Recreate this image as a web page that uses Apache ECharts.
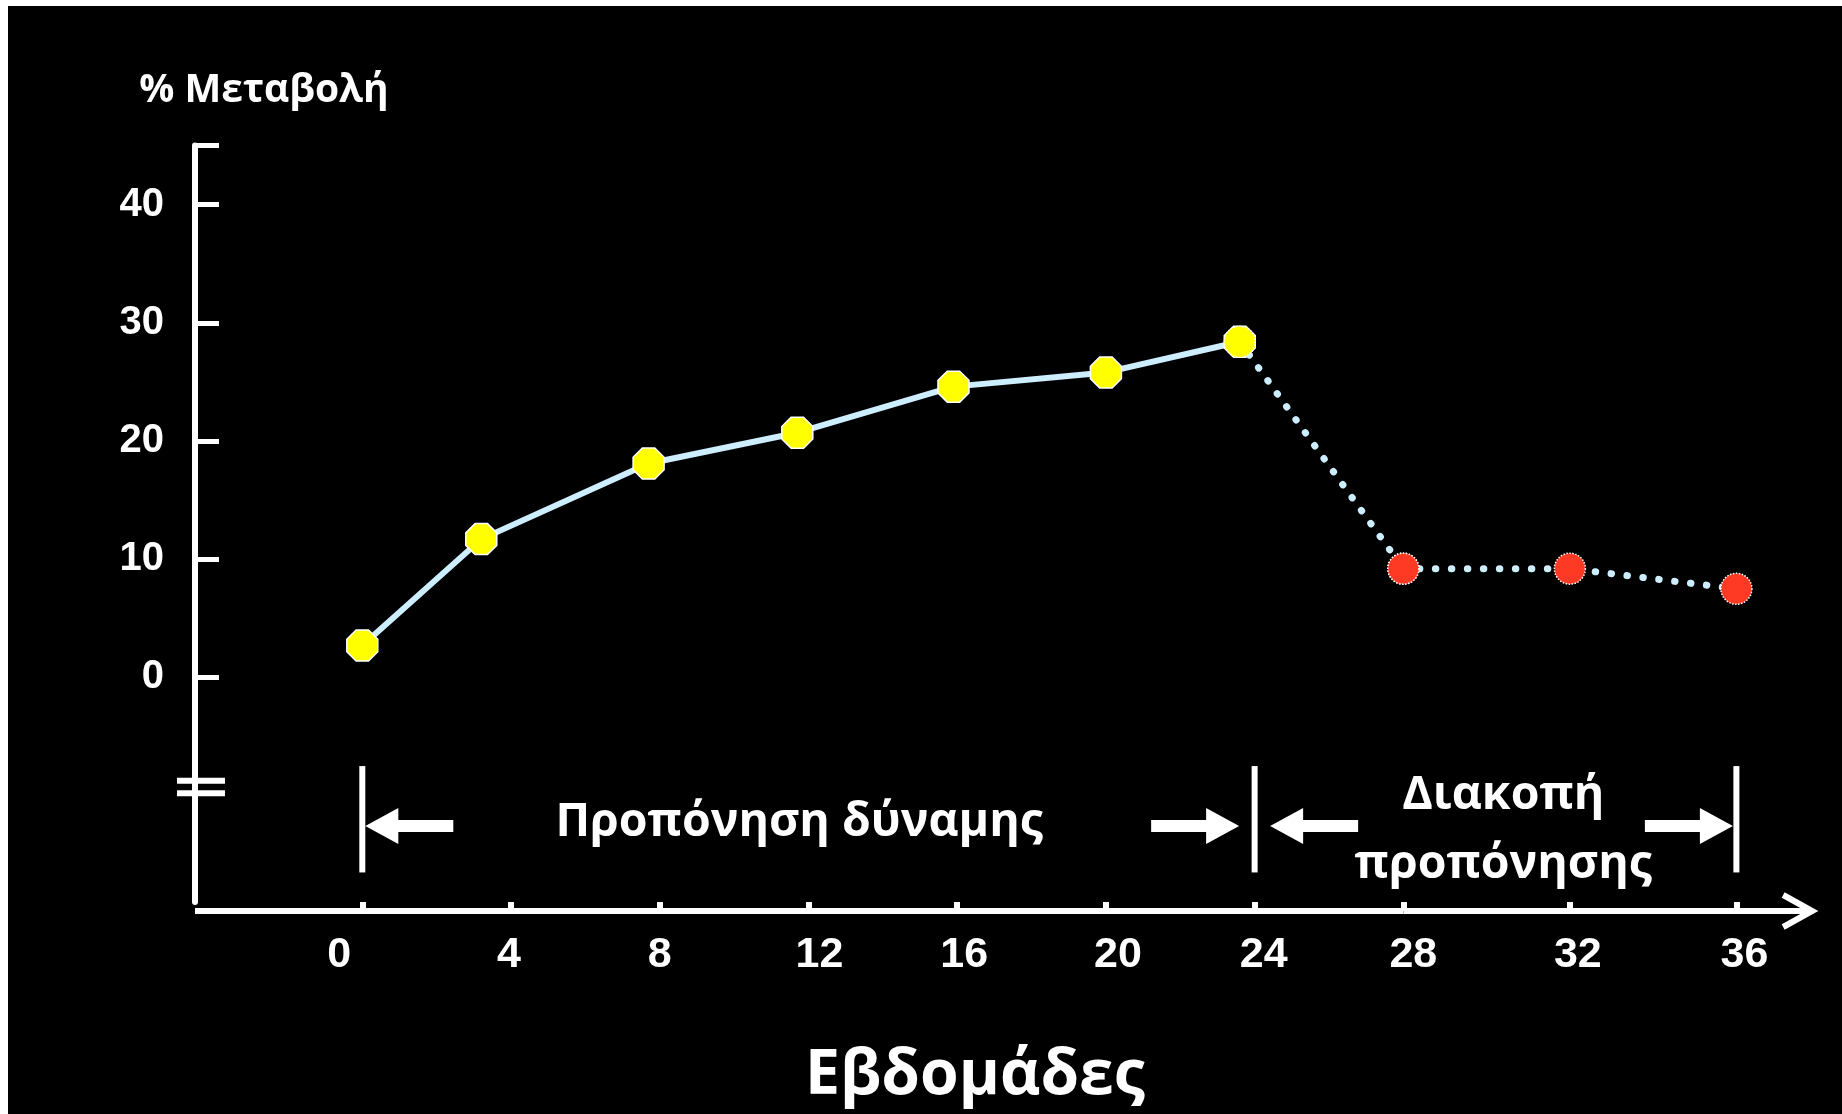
<!DOCTYPE html>
<html lang="el">
<head>
<meta charset="utf-8">
<title>% Μεταβολή – Εβδομάδες</title>
<script src="https://cdn.jsdelivr.net/npm/echarts@6/dist/echarts.min.js"></script>
<style>
  html, body { margin: 0; padding: 0; background: #000; }
  #chart { width: 1842px; height: 1114px; }
</style>
</head>
<body>
<div id="chart"></div>
<script>
// % change over the weeks of strength training (solid) and after it stops (dotted)
const trainingWeeks  = [0, 3.2, 7.7, 11.7, 15.9, 20, 23.6];
const trainingChange = [2.7, 11.7, 18.1, 20.7, 24.6, 25.8, 28.4];
const detrainWeeks   = [23.6, 28, 32, 36];
const detrainChange  = [28.4, 9.2, 9.2, 7.5];

// axis ticks
const weekTicks   = [0, 4, 8, 12, 16, 20, 24, 28, 32, 36];
const changeTicks = [0, 10, 20, 30, 40];
const changeCap   = 45;

// phase boundaries (weeks) and phase captions
const phaseBounds = [0, 24, 36];
const phaseLabels = ['Προπόνηση δύναμης', 'Διακοπή\nπροπόνησης'];

const yTitle = '% Μεταβολή';
const xTitle = 'Εβδομάδες';

// ---- layout & style ----
// the week axis is stretched after week 28, so it is drawn as two joined segments
const SPLIT = 28;
const A_MIN = -4.5, B_MAX = 37.7;
const PX_A = 37.18, PX_B = 41.63;       // pixels per week on each segment
const Y_MIN = -19, Y_MAX = changeCap;
const LEFT = 195, TOP = 145.5, BOTTOM = 902;
const widthA = (SPLIT - A_MIN) * PX_A;
const widthB = (B_MAX - SPLIT) * PX_B;
const H = BOTTOM - TOP;

const WHITE = '#ffffff';
const LINE = '#cdeeff';
const YELLOW = '#ffff00';
const RED = '#ff3a24';
const NUM_FONT = 'Liberation Sans, Arial, sans-serif';
const GR_FONT = 'Open Sans, Noto Sans, sans-serif';
const OCTAGON = 'path://M30,0L70,0L100,30L100,70L70,100L30,100L0,70L0,30Z';

// small per-label horizontal nudges of the week labels
const labelNudge = {0: -23, 4: -2, 8: 0, 12: 11, 16: 7, 20: 12, 24: 9, 28: 10, 32: 8, 36: 8};
const weekRich = {};
weekTicks.forEach(w => {
  const n = labelNudge[w] || 0;
  weekRich['w' + w] = {
    fontFamily: NUM_FONT, fontWeight: 'bold', fontSize: 43, color: WHITE,
    padding: n >= 0 ? [0, 0, 0, 2 * n] : [0, -2 * n, 0, 0]
  };
});

function weekAxis(gridIndex, min, max, ticks) {
  return {
    type: 'value', gridIndex, min, max, offset: 9,
    axisLine: { show: true, onZero: false, lineStyle: { color: WHITE, width: 6, cap: 'butt' } },
    axisTick: { show: true, inside: true, length: 9, customValues: ticks,
                lineStyle: { color: WHITE, width: 6 } },
    axisLabel: { show: true, customValues: ticks, margin: 23,
                 formatter: v => '{w' + v + '|' + v + '}', rich: weekRich },
    splitLine: { show: false }
  };
}

const pairs = (xs, ys) => xs.map((x, i) => [x, ys[i]]);
const detrainPts = pairs(detrainWeeks, detrainChange).map((p, i) => ({
  value: p,
  itemStyle: { color: i === 0 ? YELLOW : RED }
}));
const detrainA = detrainPts.filter(d => d.value[0] <= SPLIT);
const detrainB = detrainPts.filter(d => d.value[0] >= SPLIT);

const dotted = { color: LINE, width: 7, type: [0.5, 15.5], cap: 'round' };
const dottedItem = { borderColor: WHITE, borderWidth: 1.5, borderType: 'dotted' };

const chart = echarts.init(document.getElementById('chart'), null, { renderer: 'canvas' });

const option = {
  backgroundColor: '#000',
  animation: false,
  grid: [
    { left: LEFT, top: TOP, width: widthA, height: H, containLabel: false, outerBoundsMode: 'none' },
    { left: LEFT + widthA, top: TOP, width: widthB, height: H, containLabel: false, outerBoundsMode: 'none' }
  ],
  xAxis: [
    weekAxis(0, A_MIN, SPLIT, weekTicks.filter(w => w <= SPLIT)),
    weekAxis(1, SPLIT, B_MAX, weekTicks.filter(w => w > SPLIT))
  ],
  yAxis: [
    {
      type: 'value', gridIndex: 0, min: Y_MIN, max: Y_MAX,
      axisLine: { show: true, onZero: false, lineStyle: { color: WHITE, width: 6 } },
      axisTick: { show: true, inside: true, length: 24, customValues: changeTicks.concat([changeCap]),
                  lineStyle: { color: WHITE, width: 5 } },
      axisLabel: { show: true, customValues: changeTicks, margin: 31, padding: [0, 0, 12, 0],
                   color: WHITE, fontFamily: NUM_FONT, fontWeight: 'bold', fontSize: 40 },
      splitLine: { show: false }
    },
    { type: 'value', gridIndex: 1, min: Y_MIN, max: Y_MAX, show: false }
  ],
  series: [
    {
      name: 'training', type: 'line', xAxisIndex: 0, yAxisIndex: 0, clip: false, z: 3,
      data: pairs(trainingWeeks, trainingChange),
      lineStyle: { color: LINE, width: 6 },
      symbol: OCTAGON, symbolSize: 31,
      itemStyle: { color: YELLOW, borderColor: WHITE, borderWidth: 1.5 }
    },
    {
      name: 'detraining', type: 'line', xAxisIndex: 0, yAxisIndex: 0, clip: false, z: 4,
      data: detrainA, lineStyle: dotted,
      symbol: 'circle', symbolSize: 31, itemStyle: dottedItem
    },
    {
      name: 'detraining', type: 'line', xAxisIndex: 1, yAxisIndex: 1, clip: false, z: 4,
      data: detrainB, lineStyle: dotted,
      symbol: 'circle', symbolSize: 31, itemStyle: dottedItem
    }
  ]
};
chart.setOption(option);

// ---- annotations placed through the axes ----
const xp = w => chart.convertToPixel({ xAxisIndex: w > SPLIT ? 1 : 0 }, w);
const yp = v => chart.convertToPixel({ yAxisIndex: 0 }, v);
const axisX = xp(A_MIN);

const g = [];
// page frame strips
g.push({ type: 'rect', shape: { x: 0, y: 0, width: 1842, height: 6 }, style: { fill: WHITE }, silent: true });
g.push({ type: 'rect', shape: { x: 0, y: 0, width: 8, height: 1114 }, style: { fill: WHITE }, silent: true });

// axis break on the y axis
[-8.75, -9.8].forEach(v => {
  g.push({ type: 'rect', shape: { x: axisX - 18, y: yp(v) - 3, width: 48, height: 6 },
           style: { fill: WHITE }, z: 10 });
});

// arrow head at the end of the week axis
const xAxisY = BOTTOM + 9;
const xEnd = xp(B_MAX) + 5;
g.push({ type: 'polyline', shape: { points: [[xEnd - 29, xAxisY - 16], [xEnd, xAxisY], [xEnd - 29, xAxisY + 16]] },
         style: { stroke: WHITE, lineWidth: 6, fill: null, lineJoin: 'miter' }, z: 10 });

// phase bars
const barTop = yp(-7.5), barBottom = yp(-16.5);
phaseBounds.forEach(w => {
  const x = xp(w);
  g.push({ type: 'rect', shape: { x: x - 3, y: barTop, width: 6, height: barBottom - barTop },
           style: { fill: WHITE }, z: 10 });
});

// block arrows pointing at the phase bars
const arrowY = yp(-12.57);
function arrow(tip, dir) {
  const s = dir;  // -1 points left, +1 points right
  const pts = [[tip, arrowY], [tip - s * 33, arrowY - 18], [tip - s * 33, arrowY - 6],
               [tip - s * 88, arrowY - 6], [tip - s * 88, arrowY + 6], [tip - s * 33, arrowY + 6],
               [tip - s * 33, arrowY + 18]];
  g.push({ type: 'polygon', shape: { points: pts }, style: { fill: WHITE }, z: 10 });
}
for (let i = 0; i < phaseBounds.length - 1; i++) {
  const a = phaseBounds[i], b = phaseBounds[i + 1];
  const gapA = (i === 0) ? 3 : 15.5;
  const gapB = (i === phaseBounds.length - 2) ? 3.5 : 15.5;
  arrow(xp(a) + gapA, -1);
  arrow(xp(b) - gapB, 1);
}

// phase captions
const captionAt = [[11.75, -12.28], [30.4, -12.9]];
phaseLabels.forEach((t, i) => {
  g.push({ type: 'text', x: xp(captionAt[i][0]), y: yp(captionAt[i][1]), z: 10,
           style: { text: t, fill: WHITE, font: 'bold 46.5px ' + GR_FONT,
                    align: 'center', verticalAlign: 'middle', lineHeight: 69 } });
});

// axis titles
g.push({ type: 'text', x: axisX + 69, y: 91, z: 10,
         style: { text: yTitle, fill: WHITE, font: 'bold 39px ' + GR_FONT,
                  align: 'center', verticalAlign: 'middle' } });
g.push({ type: 'text', x: 975, y: 1076, z: 10,
         style: { text: xTitle, fill: WHITE, font: 'bold 62.5px ' + GR_FONT,
                  align: 'center', verticalAlign: 'middle' } });

chart.setOption({ graphic: g });
</script>
</body>
</html>
